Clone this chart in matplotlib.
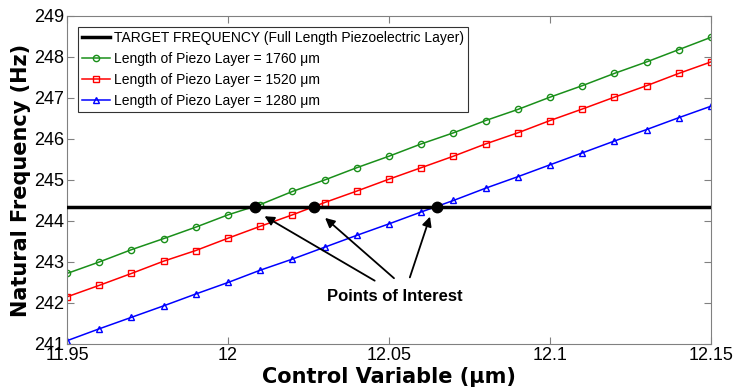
import matplotlib
matplotlib.use("Agg")
import matplotlib.pyplot as plt

plt.rcParams['font.family'] = ['Liberation Sans', 'DejaVu Sans']

x = [11.95, 11.96, 11.97, 11.98, 11.99, 12.00, 12.01, 12.02, 12.03, 12.04, 12.05,
     12.06, 12.07, 12.08, 12.09, 12.10, 12.11, 12.12, 12.13, 12.14, 12.15]
f_1760 = [242.72, 243.00, 243.30, 243.57, 243.85, 244.15, 244.40, 244.72, 245.00, 245.30, 245.58,
          245.88, 246.15, 246.45, 246.72, 247.02, 247.30, 247.60, 247.88, 248.18, 248.48]
f_1520 = [242.15, 242.43, 242.72, 243.02, 243.28, 243.58, 243.87, 244.15, 244.45, 244.73, 245.02,
          245.30, 245.58, 245.88, 246.15, 246.45, 246.73, 247.02, 247.30, 247.60, 247.88]
f_1280 = [241.08, 241.37, 241.65, 241.93, 242.22, 242.50, 242.80, 243.07, 243.36, 243.65, 243.93,
          244.22, 244.50, 244.80, 245.08, 245.37, 245.66, 245.95, 246.23, 246.52, 246.80]
target = 244.35
poi_x = [12.0085, 12.0268, 12.0648]
labels = ["TARGET FREQUENCY (Full Length Piezoelectric Layer)",
          "Length of Piezo Layer = 1760 \u03bcm",
          "Length of Piezo Layer = 1520 \u03bcm",
          "Length of Piezo Layer = 1280 \u03bcm"]
xticks = [11.95, 12.0, 12.05, 12.1, 12.15]
xticklabels = ["11.95", "12", "12.05", "12.1", "12.15"]
yticks = [241, 242, 243, 244, 245, 246, 247, 248, 249]

fig = plt.figure(figsize=(7.33, 3.89), dpi=100)
ax = fig.add_axes([0.0914, 0.1157, 0.8786, 0.8432])

ax.plot([x[0], x[-1]], [target, target], color='black', lw=2.5, label=labels[0], zorder=3)
ax.plot(x, f_1760, color='#1a8f1a', lw=1.1, marker='o', ms=4.5, mfc='none', mew=1.0, label=labels[1])
ax.plot(x, f_1520, color='red', lw=1.1, marker='s', ms=5, mfc='none', mew=1.0, label=labels[2])
ax.plot(x, f_1280, color='blue', lw=1.1, marker='^', ms=5, mfc='none', mew=1.0, label=labels[3])
ax.plot(poi_x, [target] * len(poi_x), 'o', color='black', ms=7.5, zorder=5)

tails = [(12.0463, 242.51), (12.0522, 242.56), (12.0562, 242.56)]
heads = [(12.0106, 244.15), (12.0295, 244.12), (12.0630, 244.17)]
for (tx, ty), (hx, hy) in zip(tails, heads):
    ax.annotate("", xy=(hx, hy), xytext=(tx, ty),
                arrowprops=dict(arrowstyle='-|>', color='black', lw=1.3, mutation_scale=14))
ax.text(12.0519, 242.15, "Points of Interest", ha='center', va='center',
        fontsize=12, fontweight='bold')

ax.set_xlim(11.95, 12.15)
ax.set_ylim(241, 249)
ax.set_xticks(xticks)
ax.set_xticklabels(xticklabels)
ax.set_yticks(yticks)
ax.tick_params(direction='in', top=True, right=True, labelsize=13, length=5,
               color='#808080', pad=2)
for s in ax.spines.values():
    s.set_color('#808080')

ax.set_xlabel("Control Variable (\u03bcm)", fontsize=15, fontweight='bold', labelpad=2.5,
              family=['DejaVu Sans'])
ax.set_ylabel("Natural Frequency (Hz)", fontsize=15, fontweight='bold', labelpad=2,
              family=['DejaVu Sans'])

leg = ax.legend(loc='upper left', fontsize=10, frameon=True, fancybox=False,
                edgecolor='black', handlelength=2.0, borderaxespad=0.8,
                labelspacing=0.5, borderpad=0.3, handletextpad=0.3)
leg.get_frame().set_linewidth(0.8)

fig.savefig("out.png", dpi=100)
